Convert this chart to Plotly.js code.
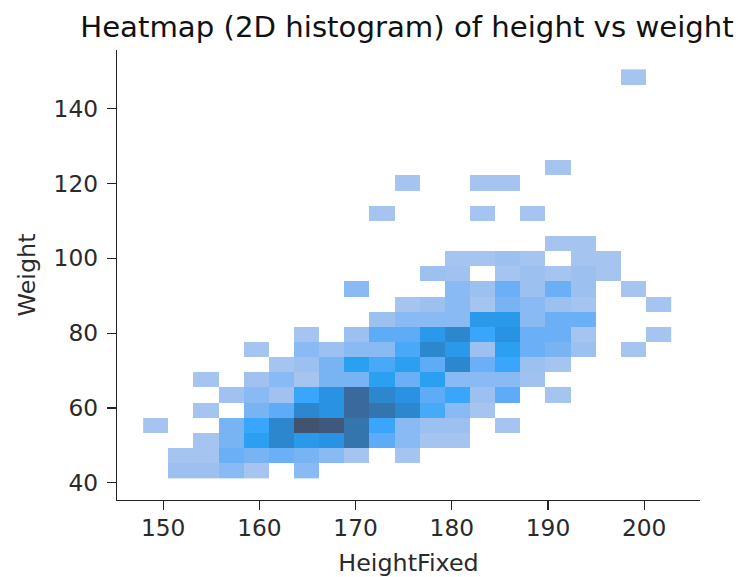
<!DOCTYPE html>
<html>
<head>
<meta charset="utf-8">
<script src="https://cdn.plot.ly/plotly-3.0.1.min.js"></script>
<style>html,body{margin:0;padding:0;background:#fff}#chart{width:738px;height:577px}</style>
</head>
<body>
<div id="chart"></div>
<script>
const heightEdges = [147.92,150.53,153.15,155.76,158.38,160.99,163.61,166.22,168.84,171.45,174.07,176.68,179.3,181.91,184.53,187.14,189.76,192.37,194.99,197.6,200.22,202.83];
const weightEdges = [41.26,45.31,49.35,53.4,57.45,61.49,65.54,69.59,73.64,77.68,81.73,85.78,89.82,93.87,97.92,101.96,106.01,110.06,114.1,118.15,122.2,126.24,130.29,134.34,138.38,142.43,146.48,150.52];
const _ = null;
// counts-like shade level per cell; rows run bottom to top, columns left to right
const counts = [
 [_,2,2,3,1,_,3,_,_,_,_,_,_,_,_,_,_,_,_,_,_],
 [_,1,1,5,4,5,4,3,1,_,1,_,_,_,_,_,_,_,_,_,_],
 [_,_,1,4,9,11,9.5,10,12,6,3,1,1,_,_,_,_,_,_,_,_],
 [1,_,_,4,8,11,15,14,12,8,3,2,2,_,1,_,_,_,_,_,_],
 [_,_,1,_,4,6,11,10,13,12,11,7,3,1,_,_,_,_,_,_,_],
 [_,_,_,1.5,3,1.5,8,10,13,11,10,6,8,2,6,_,1,_,_,_,_],
 [_,_,1,_,1.5,3,1,4,4,9,5,9,3,3,3,1.5,_,_,_,_,_],
 [_,_,_,_,_,1,2,4,9,7,9,6,11,5,8,2,1,_,_,_,_],
 [_,_,_,_,1,_,3,2,3,3,7,11,9.5,2,9,5,4,2,_,1,_],
 [_,_,_,_,_,_,1,_,2,6,6,9.5,11,8,10,5,5,1,_,_,1],
 [_,_,_,_,_,_,_,_,_,2,3,3,3,9.5,9.5,3,5,5,_,_,_],
 [_,_,_,_,_,_,_,_,_,_,1,2,3,1,4,3,2,1,_,_,1],
 [_,_,_,_,_,_,_,_,3,_,_,_,3,2,5,2,5,2,_,1,_],
 [_,_,_,_,_,_,_,_,_,_,_,2,1.5,_,1,2,1,2,1,_,_],
 [_,_,_,_,_,_,_,_,_,_,_,_,1,1,2,1,_,1,1,_,_],
 [_,_,_,_,_,_,_,_,_,_,_,_,_,_,_,_,1,1,_,_,_],
 [_,_,_,_,_,_,_,_,_,_,_,_,_,_,_,_,_,_,_,_,_],
 [_,_,_,_,_,_,_,_,_,1,_,_,_,1,_,1,_,_,_,_,_],
 [_,_,_,_,_,_,_,_,_,_,_,_,_,_,_,_,_,_,_,_,_],
 [_,_,_,_,_,_,_,_,_,_,1,_,_,1,1,_,_,_,_,_,_],
 [_,_,_,_,_,_,_,_,_,_,_,_,_,_,_,_,1,_,_,_,_],
 [_,_,_,_,_,_,_,_,_,_,_,_,_,_,_,_,_,_,_,_,_],
 [_,_,_,_,_,_,_,_,_,_,_,_,_,_,_,_,_,_,_,_,_],
 [_,_,_,_,_,_,_,_,_,_,_,_,_,_,_,_,_,_,_,_,_],
 [_,_,_,_,_,_,_,_,_,_,_,_,_,_,_,_,_,_,_,_,_],
 [_,_,_,_,_,_,_,_,_,_,_,_,_,_,_,_,_,_,_,_,_],
 [_,_,_,_,_,_,_,_,_,_,_,_,_,_,_,_,_,_,_,1,_]
];
const shadeStops = ['#a5c4ef','#9cc0f0','#8abaf3','#78b3f4','#6bb0f6','#5eacf7','#48a9f8','#3aa6fb','#2ba0f0','#2a92e2','#2c87cf','#3575ad','#3a6a9d','#40587c','#42536f'];
const xTicks = [150,160,170,180,190,200];
const yTicks = [40,60,80,100,120,140];

const font = 'DejaVu Sans, sans-serif';
const scale = shadeStops.map((c,i)=>[i/(shadeStops.length-1),c]);
const axis = {
  showgrid:false, zeroline:false, showline:true, linecolor:'#222', linewidth:1.3,
  ticks:'outside', ticklen:9, tickwidth:1.2, tickcolor:'#222', tickfont:{family:font,size:23.3,color:'#2a2a2a'}
};
Plotly.newPlot('chart',[{
  type:'heatmap', x:heightEdges, y:weightEdges, z:counts, zmin:1, zmax:15,
  colorscale:scale, showscale:false, zsmooth:false, hoverongaps:false
}],{
  width:738, height:577, paper_bgcolor:'#fff', plot_bgcolor:'#fff',
  margin:{l:117.3,r:38,t:50,b:76.7},
  title:{text:'Heatmap (2D histogram) of height vs weight', font:{family:font,size:29.2,color:'#111'}, x:0.5515, xanchor:'center', y:0.953, yanchor:'middle'},
  xaxis:Object.assign({},axis,{range:[145.2,205.8], tickvals:xTicks, title:{text:'HeightFixed', font:{family:font,size:23.8,color:'#2a2a2a'}, standoff:14}}),
  yaxis:Object.assign({},axis,{range:[35.38,155.7], tickvals:yTicks, title:{text:'Weight', font:{family:font,size:23.8,color:'#2a2a2a'}, standoff:14.5}})
},{staticPlot:true,displayModeBar:false}).then(function(){
  // nudge tick labels to the reference's gap from the axis
  document.querySelectorAll('.ytick text').forEach(function(t){ t.setAttribute('x', parseFloat(t.getAttribute('x'))-4); });
  document.querySelectorAll('.xtick text').forEach(function(t){ t.setAttribute('y', parseFloat(t.getAttribute('y'))-2); });
});
</script>
</body>
</html>
